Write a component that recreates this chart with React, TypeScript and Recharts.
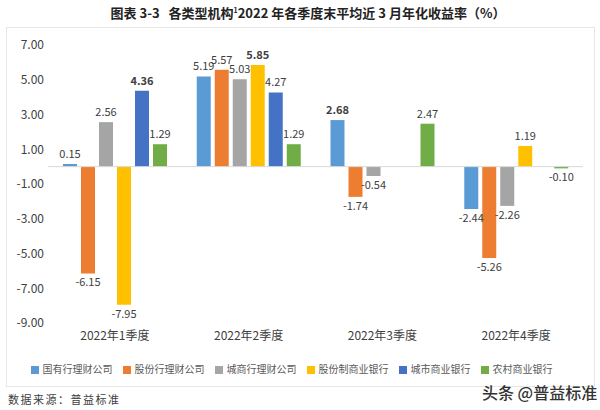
import { BarChart, Bar, XAxis, YAxis, ReferenceLine, Legend, LabelList } from 'recharts';

const quarters = ['2022年1季度', '2022年2季度', '2022年3季度', '2022年4季度'];
const stateBankWmc = [0.15, 5.19, 2.68, -2.44];
const jointStockWmc = [-6.15, 5.57, -1.74, -5.26];
const cityBankWmc = [2.56, 5.03, -0.54, -2.26];
const jointStockBank = [-7.95, 5.85, null, 1.19];
const cityCommercialBank = [4.36, 4.27, null, null];
const ruralCommercialBank = [1.29, 1.29, 2.47, -0.1];
const yTicks = [-9, -7, -5, -3, -1, 1, 3, 5, 7];

const series = [
  { key: 'a', name: '国有行理财公司', values: stateBankWmc, color: '#5B9BD5' },
  { key: 'b', name: '股份行理财公司', values: jointStockWmc, color: '#ED7D31' },
  { key: 'c', name: '城商行理财公司', values: cityBankWmc, color: '#A5A5A5' },
  { key: 'd', name: '股份制商业银行', values: jointStockBank, color: '#FFC000' },
  { key: 'e', name: '城市商业银行', values: cityCommercialBank, color: '#4472C4' },
  { key: 'f', name: '农村商业银行', values: ruralCommercialBank, color: '#70AD47' },
];

const data = quarters.map((q, i) => {
  const row: Record<string, any> = { quarter: q };
  series.forEach((s) => (row[s.key] = s.values[i]));
  return row;
});

// highest value in each quarter gets a bold label
const maxByQuarter = quarters.map((_, i) =>
  Math.max(...series.map((s) => (s.values[i] == null ? -Infinity : (s.values[i] as number))))
);

const font = '"Noto Sans CJK SC", "Noto Sans", sans-serif';

function makeLabel() {
  return (props: any) => {
    const { x, y, width, height, value, index } = props;
    if (value == null) return null;
    const neg = value < 0;
    const bold = value === maxByQuarter[index];
    return (
      <text
        x={x + width / 2}
        y={neg ? Math.max(y, y + height) + 13 : Math.min(y, y + height) - 6}
        textAnchor="middle"
        fontSize={11}
        fontFamily={font}
        fontWeight={bold ? 700 : 400}
        fill="#404040"
      >
        {value.toFixed(2)}
      </text>
    );
  };
}

export default function App() {
  return (
    <div style={{ position: 'absolute', left: 0, top: 0, width: 600, height: 410, background: '#fff', fontFamily: font }}>
      <div style={{ position: 'absolute', top: 3, left: 0, width: 616, textAlign: 'center', fontSize: 13, fontWeight: 700, color: '#222' }}>
        图表 3-3&nbsp;&nbsp;&nbsp;各类型机构<sup style={{ fontSize: 7 }}>1</sup>2022 年各季度末平均近 3 月年化收益率（%）
      </div>
      <div style={{ position: 'absolute', left: 6, top: 27, width: 589, height: 360, border: '1px solid #e6e6e6', boxSizing: 'border-box' }} />
      <div style={{ position: 'absolute', left: 6, top: 27 }}>
        <BarChart
          width={590}
          height={360}
          data={data}
          margin={{ top: 18, right: 13, left: 4, bottom: 4 }}
          barSize={14}
          barGap={4}
        >
          <XAxis
            dataKey="quarter"
            axisLine={false}
            tickLine={false}
            tick={{ fontSize: 12, fill: '#404040', fontFamily: font }}
            height={30}
          />
          <YAxis
            domain={[-9, 7]}
            ticks={yTicks}
            axisLine={false}
            tickLine={false}
            tickSize={0}
            tickMargin={4}
            width={38}
            tickFormatter={(v: number) => v.toFixed(2)}
            tick={{ fontSize: 12, fill: '#404040', fontFamily: font }}
          />
          <ReferenceLine y={0} stroke="#d9d9d9" strokeWidth={1} />
          <Legend
            verticalAlign="bottom"
            height={30}
            iconType="square"
            iconSize={8}
            itemSorter={(item: any) => series.findIndex((s) => s.name === item.value)}
            wrapperStyle={{ fontSize: 10, color: '#595959', fontFamily: font, letterSpacing: 0, bottom: -4 }}
            formatter={(value: string) => <span style={{ color: '#595959' }}>{value}</span>}
          />
          {series.map((s) => (
            <Bar key={s.key} dataKey={s.key} name={s.name} fill={s.color} isAnimationActive={false}>
              <LabelList dataKey={s.key} content={makeLabel()} />
            </Bar>
          ))}
        </BarChart>
      </div>
      <div style={{ position: 'absolute', left: 8, top: 391, fontSize: 11, color: '#404040', letterSpacing: 1.5 }}>
        数据来源：普益标准
      </div>
      <div style={{ position: 'absolute', left: 482, top: 380, fontSize: 16, color: '#333', fontWeight: 500 }}>
        头条 @普益标准
      </div>
    </div>
  );
}
